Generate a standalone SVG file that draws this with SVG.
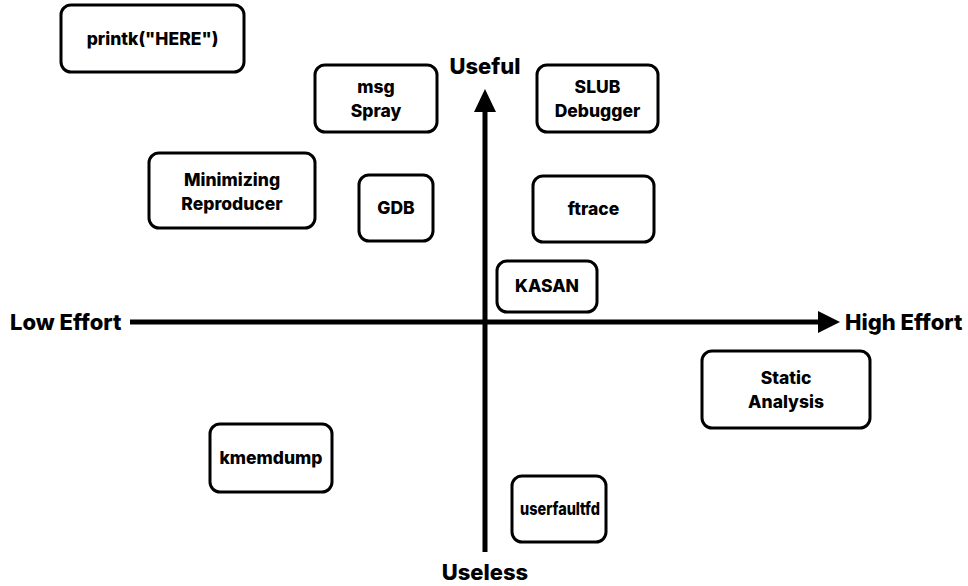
<svg xmlns="http://www.w3.org/2000/svg" width="968" height="586" viewBox="0 0 968 586">
<style>
.box{fill:#fff;stroke:#000;stroke-width:3}
.t{font-family:Inter,"Noto Sans",sans-serif;font-weight:800;font-size:17.5px;fill:#000;text-anchor:middle}
.ax{font-family:Inter,"Noto Sans",sans-serif;font-weight:800;font-size:22px;fill:#000}
</style>
<rect width="968" height="586" fill="#fff"/>
<g id="connectors">
<line x1="130" y1="322" x2="820" y2="322" stroke="#000" stroke-width="5"/>
<polygon points="818,311 840,322 818,333" fill="#000"/>
<line x1="485" y1="552" x2="485" y2="110" stroke="#000" stroke-width="5"/>
<polygon points="474,112 485,89 496,112" fill="#000"/>
</g>
<g id="axis-labels">
<text class="ax" x="485" y="74" text-anchor="middle">Useful</text>
<text class="ax" x="485" y="580" text-anchor="middle">Useless</text>
<text class="ax" x="10" y="330">Low Effort</text>
<text class="ax" x="845" y="330">High Effort</text>
</g>
<g id="printk"><rect class="box" x="61" y="5" width="183" height="67" rx="10"/><text class="t" x="152.5" y="45">printk("HERE")</text></g>
<g id="msgspray"><rect class="box" x="315" y="65" width="122" height="67" rx="10"/><text class="t" x="376" y="93">msg</text><text class="t" x="376" y="117">Spray</text></g>
<g id="slub"><rect class="box" x="537" y="65" width="121" height="67" rx="10"/><text class="t" x="597.5" y="93">SLUB</text><text class="t" x="597.5" y="117">Debugger</text></g>
<g id="minimizing"><rect class="box" x="149" y="153" width="166" height="75" rx="10"/><text class="t" x="232" y="186">Minimizing</text><text class="t" x="232" y="210">Reproducer</text></g>
<g id="gdb"><rect class="box" x="359" y="175" width="74" height="66" rx="10"/><text class="t" x="396" y="214">GDB</text></g>
<g id="ftrace"><rect class="box" x="533" y="176" width="121" height="66" rx="10"/><text class="t" x="593.5" y="215">ftrace</text></g>
<g id="kasan"><rect class="box" x="497" y="261" width="100" height="51" rx="10"/><text class="t" x="547" y="292">KASAN</text></g>
<g id="static"><rect class="box" x="702" y="351" width="168" height="77" rx="10"/><text class="t" x="786" y="384">Static</text><text class="t" x="786" y="408">Analysis</text></g>
<g id="kmemdump"><rect class="box" x="210" y="424" width="122" height="68" rx="10"/><text class="t" x="271" y="464">kmemdump</text></g>
<g id="userfaultfd"><rect class="box" x="512" y="476" width="94" height="66" rx="10"/><text class="t" x="560" y="515" textLength="80" lengthAdjust="spacingAndGlyphs">userfaultfd</text></g>
</svg>
